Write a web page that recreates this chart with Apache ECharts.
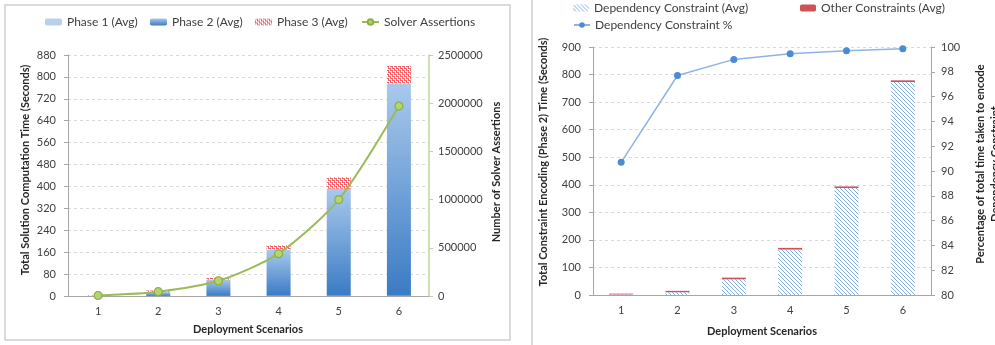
<!DOCTYPE html>
<html>
<head>
<meta charset="utf-8">
<script src="https://cdn.jsdelivr.net/npm/echarts@6/dist/echarts.min.js"></script>
<style>
html,body{margin:0;padding:0;background:#fff;}
#main{width:995px;height:345px;}
</style>
</head>
<body>
<div id="main"></div>
<script>
// ---- Data ----
const categories = ['1', '2', '3', '4', '5', '6'];
// Left chart (seconds)
const phase1Avg = [0.2, 0.3, 0.4, 0.5, 0.6, 0.8];
const phase2Avg = [1, 14, 60, 169, 391, 775];
const phase3Avg = [2, 6, 6, 15, 42, 64];
const solverAssertions = [5000, 45000, 158000, 439000, 1000000, 1970000];
// Right chart
const dependencyConstraintAvg = [2, 10, 57, 165, 388, 773];
const otherConstraintsAvg = [3, 5, 6, 6, 6, 6];
const dependencyConstraintPct = [90.7, 97.7, 99.0, 99.45, 99.7, 99.85];

const FONT = 'Lato, "Open Sans", sans-serif';
const LABEL = '#404040';

function makePattern(size, painter) {
  const c = document.createElement('canvas');
  c.width = size; c.height = size;
  const ctx = c.getContext('2d');
  ctx.fillStyle = '#ffffff';
  ctx.fillRect(0, 0, size, size);
  painter(ctx);
  return { image: c, repeat: 'repeat' };
}
const redHatch = makePattern(4, ctx => {
  ctx.fillStyle = '#F0646A';
  for (let x = 0; x < 4; x++) for (let y = 0; y < 4; y++) {
    if ((x + y) % 2 === 0 && (x % 2 === 0)) ctx.fillRect(x, y, 1, 1);
    if ((x - y + 4) % 4 === 1) ctx.fillRect(x, y, 1, 1);
  }
});
const blueHatch = makePattern(4, ctx => {
  ctx.fillStyle = '#86AFE0';
  for (let i = 0; i < 4; i++) ctx.fillRect(i, i, 1, 1);
});
const phase2Grad = new echarts.graphic.LinearGradient(0, 0, 0, 1, [
  { offset: 0, color: '#A9C9EC' },
  { offset: 1, color: '#3A7BC4' }
]);

const chart = echarts.init(document.getElementById('main'), null, { renderer: 'canvas' });

const baseAxisLabel = { color: LABEL, fontFamily: FONT, fontSize: 11 };
const numFmt = v => String(v);
const legendText = { color: LABEL, fontSize: 12, fontFamily: FONT };
const titleFont = 'bold 11px Lato, sans-serif';

const option = {
  animation: false,
  textStyle: { fontFamily: FONT },
  graphic: [
    { type: 'rect', shape: { x: 5, y: 5, width: 505, height: 335 }, style: { fill: 'none', stroke: '#D0D0D0', lineWidth: 1.5 }, z: -10 },
    { type: 'rect', shape: { x: 532, y: -5, width: 500, height: 360 }, style: { fill: 'none', stroke: '#D0D0D0', lineWidth: 1.5 }, z: -10 },
    { type: 'text', x: 25, y: 170, rotation: Math.PI / 2, style: { text: 'Total Solution Computation Time (Seconds)', font: titleFont, fill: '#262626', align: 'center', verticalAlign: 'middle' } },
    { type: 'text', x: 496, y: 172, rotation: Math.PI / 2, style: { text: 'Number of Solver Assertions', font: titleFont, fill: '#262626', align: 'center', verticalAlign: 'middle' } },
    { type: 'text', x: 248, y: 329, style: { text: 'Deployment Scenarios', font: titleFont, fill: '#262626', align: 'center', verticalAlign: 'middle' } },
    { type: 'text', x: 543, y: 162, rotation: Math.PI / 2, style: { text: 'Total Constraint Encoding (Phase 2) Time (Seconds)', font: titleFont, fill: '#262626', align: 'center', verticalAlign: 'middle' } },
    { type: 'text', x: 980, y: 164, rotation: Math.PI / 2, style: { text: 'Percentage of total time taken to encode', font: titleFont, fill: '#262626', align: 'center', verticalAlign: 'middle' } },
    { type: 'text', x: 995, y: 164, rotation: Math.PI / 2, style: { text: 'Dependency Constraint', font: titleFont, fill: '#262626', align: 'center', verticalAlign: 'middle' } },
    { type: 'text', x: 762, y: 331, style: { text: 'Deployment Scenarios', font: titleFont, fill: '#262626', align: 'center', verticalAlign: 'middle' } }
  ],
  legend: [
    { data: ['Phase 1 (Avg)'], left: 45, top: 16, padding: 0, itemWidth: 17, itemHeight: 7, itemGap: 0, textStyle: legendText },
    { data: ['Phase 2 (Avg)'], left: 150, top: 16, padding: 0, itemWidth: 17, itemHeight: 7, textStyle: legendText },
    { data: ['Phase 3 (Avg)'], left: 255, top: 16, padding: 0, itemWidth: 17, itemHeight: 7, textStyle: legendText },
    { data: ['Solver Assertions'], left: 361, top: 16, padding: 0, itemWidth: 17, itemHeight: 7, textStyle: legendText },
    { data: ['Dependency Constraint (Avg)'], left: 573, top: 2, padding: 0, itemWidth: 16, itemHeight: 7, textStyle: legendText },
    { data: ['Other Constraints (Avg)'], left: 800, top: 2, padding: 0, itemWidth: 16, itemHeight: 7, textStyle: legendText },
    { data: ['Dependency Constraint %'], left: 573, top: 19, padding: 0, itemWidth: 16, itemHeight: 7, textStyle: legendText }
  ],
  grid: [
    { left: 68, top: 55, width: 361, height: 241 },
    { left: 593, top: 47, width: 338, height: 248 }
  ],
  xAxis: [
    {
      type: 'category', gridIndex: 0, data: categories,
      axisLine: { lineStyle: { color: '#A6A6A6' } },
      axisTick: { length: 5, lineStyle: { color: '#A6A6A6' } },
      axisLabel: Object.assign({ margin: 10 }, baseAxisLabel)
    },
    {
      type: 'category', gridIndex: 1, data: categories,
      axisLine: { lineStyle: { color: '#A6A6A6' } },
      axisTick: { length: 5, lineStyle: { color: '#A6A6A6' } },
      axisLabel: Object.assign({ margin: 10 }, baseAxisLabel)
    }
  ],
  yAxis: [
    {
      type: 'value', gridIndex: 0, min: 0, max: 880, interval: 80,
      axisLine: { show: true, lineStyle: { color: '#A6A6A6' } },
      axisTick: { show: true, length: 4, lineStyle: { color: '#A6A6A6' } },
      axisLabel: Object.assign({ margin: 12, formatter: numFmt }, baseAxisLabel),
      splitLine: { show: true, lineStyle: { color: '#D9D9D9', type: [3, 3] } }
    },
    {
      type: 'value', gridIndex: 0, position: 'right', min: 0, max: 2500000, interval: 500000,
      axisLine: { show: true, lineStyle: { color: '#C2D69B', width: 1.5 } },
      axisTick: { show: true, length: 4, lineStyle: { color: '#C2D69B' } },
      axisLabel: Object.assign({ margin: 9, formatter: numFmt }, baseAxisLabel),
      splitLine: { show: false }
    },
    {
      type: 'value', gridIndex: 1, min: 0, max: 900, interval: 100,
      axisLine: { show: true, lineStyle: { color: '#A6A6A6' } },
      axisTick: { show: true, length: 4, lineStyle: { color: '#A6A6A6' } },
      axisLabel: Object.assign({ margin: 12, formatter: numFmt }, baseAxisLabel),
      splitLine: { show: true, lineStyle: { color: '#D9D9D9', type: [3, 3] } }
    },
    {
      type: 'value', gridIndex: 1, position: 'right', min: 80, max: 100, interval: 2,
      axisLine: { show: true, lineStyle: { color: '#A6A6A6' } },
      axisTick: { show: true, length: 4, lineStyle: { color: '#A6A6A6' } },
      axisLabel: Object.assign({ margin: 10, formatter: numFmt }, baseAxisLabel),
      splitLine: { show: false }
    }
  ],
  series: [
    { name: 'Phase 1 (Avg)', type: 'bar', stack: 'L', xAxisIndex: 0, yAxisIndex: 0, barWidth: 24, data: phase1Avg, itemStyle: { color: '#B9D0EC' } },
    { name: 'Phase 2 (Avg)', type: 'bar', stack: 'L', xAxisIndex: 0, yAxisIndex: 0, barWidth: 24, data: phase2Avg, itemStyle: { color: phase2Grad } },
    { name: 'Phase 3 (Avg)', type: 'bar', stack: 'L', xAxisIndex: 0, yAxisIndex: 0, barWidth: 24, data: phase3Avg, itemStyle: { color: redHatch } },
    {
      name: 'Solver Assertions', type: 'line', xAxisIndex: 0, yAxisIndex: 1, data: solverAssertions,
      symbol: 'circle', symbolSize: 8, smooth: 0.25,
      lineStyle: { color: '#9BBB59', width: 2 },
      itemStyle: { color: '#B5D36E', borderColor: '#8CAE45', borderWidth: 1.2 }
    },
    { name: 'Dependency Constraint (Avg)', type: 'bar', stack: 'R', xAxisIndex: 1, yAxisIndex: 2, barWidth: 24, data: dependencyConstraintAvg, itemStyle: { color: blueHatch } },
    { name: 'Other Constraints (Avg)', type: 'bar', stack: 'R', xAxisIndex: 1, yAxisIndex: 2, barWidth: 24, data: otherConstraintsAvg, itemStyle: { color: '#CD5257' } },
    {
      name: 'Dependency Constraint %', type: 'line', xAxisIndex: 1, yAxisIndex: 3, data: dependencyConstraintPct,
      symbol: 'circle', symbolSize: 7,
      lineStyle: { color: '#8DB4E2', width: 1.5 },
      itemStyle: { color: '#4A8BD6' }
    }
  ]
};
chart.setOption(option);
</script>
</body>
</html>
